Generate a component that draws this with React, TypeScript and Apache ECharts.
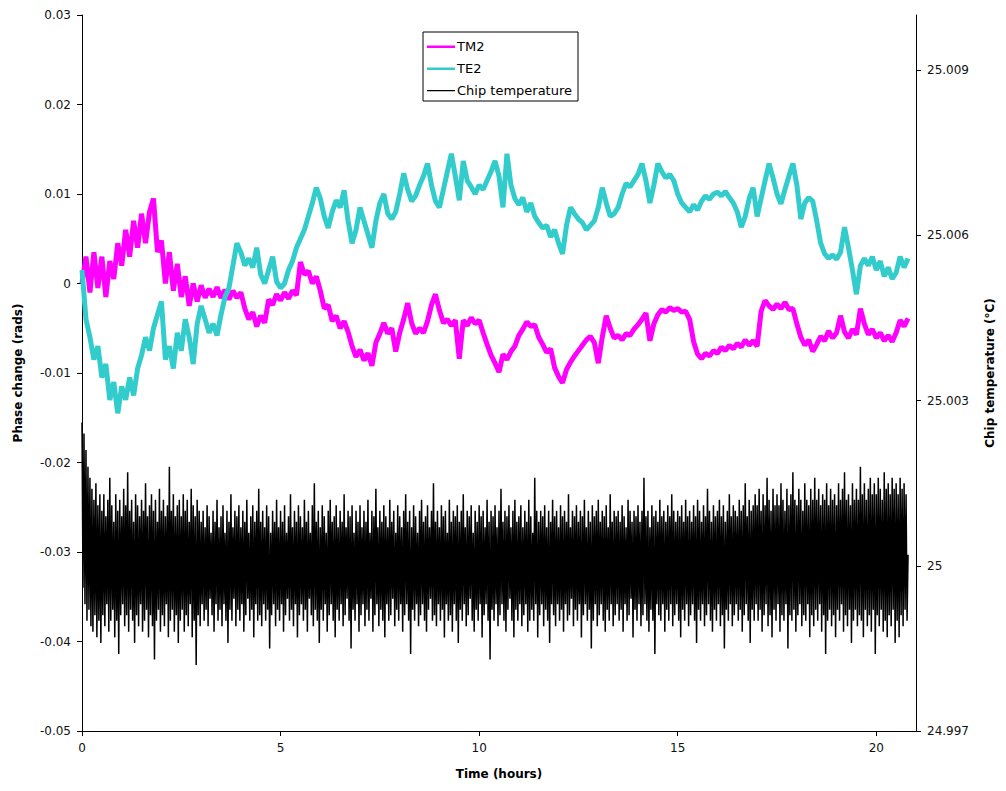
import React, { useEffect, useRef } from "react";
import * as echarts from "echarts";

// Time step of the sampled traces (hours)
const PHASE_STEP_H = 0.1;
const CHIP_STEP_H = 0.025;

// Phase change (rads), TM2 mode, sampled every 0.1 h from 0 to 20.8 h
const TM2: number[] = [
  0.0000, 0.0030, -0.0010, 0.0035, -0.0005, 0.0030, -0.0015, 0.0025, 0.0005, 0.0045,
  0.0020, 0.0060, 0.0030, 0.0070, 0.0040, 0.0078, 0.0045, 0.0080, 0.0095, 0.0035,
  0.0048, 0.0000, 0.0035, -0.0008, 0.0022, -0.0015, 0.0008, -0.0025, 0.0000, -0.0020,
  -0.0002, -0.0016, -0.0006, -0.0015, -0.0004, -0.0016, -0.0007, -0.0018, -0.0008, -0.0016,
  -0.0010, -0.0028, -0.0040, -0.0032, -0.0048, -0.0036, -0.0044, -0.0018, -0.0024, -0.0012,
  -0.0019, -0.0010, -0.0017, -0.0008, -0.0013, 0.0024, 0.0010, 0.0014, 0.0000, 0.0008,
  -0.0008, -0.0028, -0.0024, -0.0042, -0.0036, -0.0050, -0.0042, -0.0054, -0.0070, -0.0082,
  -0.0074, -0.0086, -0.0078, -0.0092, -0.0066, -0.0056, -0.0044, -0.0056, -0.0050, -0.0076,
  -0.0055, -0.0040, -0.0022, -0.0044, -0.0056, -0.0050, -0.0055, -0.0042, -0.0024, -0.0012,
  -0.0030, -0.0044, -0.0040, -0.0047, -0.0041, -0.0084, -0.0041, -0.0047, -0.0038, -0.0045,
  -0.0041, -0.0055, -0.0068, -0.0080, -0.0089, -0.0099, -0.0079, -0.0085, -0.0076, -0.0070,
  -0.0058, -0.0051, -0.0043, -0.0048, -0.0046, -0.0060, -0.0068, -0.0077, -0.0073, -0.0094,
  -0.0104, -0.0111, -0.0096, -0.0088, -0.0081, -0.0075, -0.0069, -0.0063, -0.0059, -0.0066,
  -0.0089, -0.0060, -0.0036, -0.0050, -0.0061, -0.0058, -0.0063, -0.0056, -0.0058, -0.0051,
  -0.0046, -0.0040, -0.0033, -0.0064, -0.0045, -0.0035, -0.0029, -0.0032, -0.0027, -0.0030,
  -0.0028, -0.0032, -0.0031, -0.0040, -0.0065, -0.0079, -0.0084, -0.0078, -0.0081, -0.0075,
  -0.0078, -0.0071, -0.0075, -0.0069, -0.0073, -0.0067, -0.0071, -0.0063, -0.0069, -0.0064,
  -0.0070, -0.0031, -0.0019, -0.0025, -0.0029, -0.0023, -0.0028, -0.0021, -0.0029, -0.0028,
  -0.0045, -0.0060, -0.0069, -0.0063, -0.0076, -0.0068, -0.0059, -0.0064, -0.0053, -0.0061,
  -0.0055, -0.0036, -0.0054, -0.0061, -0.0051, -0.0057, -0.0028, -0.0045, -0.0057, -0.0051,
  -0.0061, -0.0055, -0.0064, -0.0058, -0.0065, -0.0055, -0.0041, -0.0048, -0.0039,
];

// Phase change (rads), TE2 mode, sampled every 0.1 h from 0 to 20.8 h
const TE2: number[] = [
  0.0015, -0.0040, -0.0060, -0.0085, -0.0070, -0.0105, -0.0090, -0.0130, -0.0110, -0.0145,
  -0.0115, -0.0130, -0.0105, -0.0125, -0.0095, -0.0080, -0.0060, -0.0075, -0.0050, -0.0035,
  -0.0020, -0.0085, -0.0070, -0.0095, -0.0055, -0.0075, -0.0040, -0.0060, -0.0090, -0.0045,
  -0.0025, -0.0040, -0.0055, -0.0045, -0.0058, -0.0035, -0.0015, -0.0005, 0.0020, 0.0045,
  0.0035, 0.0020, 0.0028, 0.0018, 0.0040, 0.0010, 0.0000, 0.0015, 0.0030, 0.0002,
  -0.0005, 0.0000, 0.0015, 0.0025, 0.0040, 0.0050, 0.0060, 0.0075, 0.0090, 0.0107,
  0.0095, 0.0075, 0.0062, 0.0080, 0.0093, 0.0085, 0.0104, 0.0070, 0.0045, 0.0060,
  0.0085, 0.0070, 0.0055, 0.0040, 0.0070, 0.0090, 0.0100, 0.0078, 0.0072, 0.0080,
  0.0100, 0.0123, 0.0105, 0.0092, 0.0098, 0.0110, 0.0120, 0.0134, 0.0110, 0.0092,
  0.0085, 0.0105, 0.0125, 0.0145, 0.0120, 0.0093, 0.0137, 0.0115, 0.0108, 0.0100,
  0.0110, 0.0105, 0.0115, 0.0125, 0.0137, 0.0120, 0.0085, 0.0145, 0.0110, 0.0095,
  0.0088, 0.0096, 0.0080, 0.0090, 0.0075, 0.0068, 0.0062, 0.0065, 0.0052, 0.0060,
  0.0045, 0.0033, 0.0065, 0.0085, 0.0078, 0.0072, 0.0068, 0.0060, 0.0065, 0.0070,
  0.0085, 0.0107, 0.0090, 0.0075, 0.0078, 0.0085, 0.0100, 0.0112, 0.0108, 0.0115,
  0.0122, 0.0134, 0.0115, 0.0090, 0.0110, 0.0134, 0.0125, 0.0118, 0.0122, 0.0115,
  0.0100, 0.0090, 0.0085, 0.0080, 0.0088, 0.0082, 0.0092, 0.0098, 0.0094, 0.0100,
  0.0102, 0.0098, 0.0103, 0.0096, 0.0090, 0.0080, 0.0063, 0.0075, 0.0095, 0.0107,
  0.0075, 0.0095, 0.0115, 0.0134, 0.0118, 0.0100, 0.0089, 0.0105, 0.0120, 0.0134,
  0.0110, 0.0072, 0.0090, 0.0096, 0.0092, 0.0070, 0.0045, 0.0033, 0.0028, 0.0032,
  0.0027, 0.0035, 0.0063, 0.0040, 0.0015, -0.0012, 0.0020, 0.0028, 0.0020, 0.0030,
  0.0015, 0.0025, 0.0008, 0.0018, 0.0005, 0.0012, 0.0030, 0.0018, 0.0028,
];

// Chip temperature (°C), sampled every 0.025 h from 0 to 20.8 h
const CHIP_TEMP: number[] = [
  25.0026, 24.9996, 25.0024, 24.9993, 25.0021, 24.9990, 25.0018, 24.9992, 25.0016, 24.9989, 25.0014, 24.9988, 25.0012, 24.9991, 25.0015, 24.9987, 25.0011, 24.9990, 25.0013, 24.9986,
  25.0010, 24.9991, 25.0013, 24.9989, 25.0009, 24.9993, 25.0012, 24.9988, 25.0016, 24.9990, 25.0011, 24.9992, 25.0008, 24.9987, 25.0013, 24.9990, 25.0010, 24.9984, 25.0012, 24.9991,
  25.0009, 24.9993, 25.0014, 24.9989, 25.0011, 24.9991, 25.0017, 24.9988, 25.0010, 24.9992, 25.0012, 24.9990, 25.0008, 24.9986, 25.0013, 24.9991, 25.0011, 24.9989, 25.0009, 24.9993,
  25.0012, 24.9988, 25.0010, 24.9990, 25.0015, 24.9992, 25.0009, 24.9987, 25.0011, 24.9991, 25.0013, 24.9989, 25.0010, 24.9983, 25.0012, 24.9990, 25.0008, 24.9992, 25.0014, 24.9988,
  25.0010, 24.9991, 25.0012, 24.9989, 25.0009, 24.9993, 25.0011, 24.9987, 25.0018, 24.9990, 25.0010, 24.9992, 25.0013, 24.9988, 25.0009, 24.9991, 25.0011, 24.9986, 25.0012, 24.9990,
  25.0009, 24.9992, 25.0013, 24.9988, 25.0010, 24.9991, 25.0012, 24.9989, 25.0008, 24.9993, 25.0014, 24.9987, 25.0011, 24.9990, 25.0009, 24.9982, 25.0012, 24.9991, 25.0010, 24.9989,
  25.0008, 24.9993, 25.0010, 24.9990, 25.0007, 24.9992, 25.0011, 24.9989, 25.0009, 24.9994, 25.0006, 24.9991, 25.0010, 24.9988, 25.0008, 24.9993, 25.0012, 24.9990, 25.0007, 24.9992,
  25.0009, 24.9989, 25.0011, 24.9993, 25.0006, 24.9990, 25.0010, 24.9986, 25.0008, 24.9992, 25.0013, 24.9990, 25.0007, 24.9994, 25.0010, 24.9989, 25.0009, 24.9992, 25.0011, 24.9990,
  25.0007, 24.9993, 25.0010, 24.9988, 25.0008, 24.9991, 25.0012, 24.9994, 25.0006, 24.9990, 25.0009, 24.9992, 25.0011, 24.9987, 25.0008, 24.9993, 25.0010, 24.9990, 25.0014, 24.9991,
  25.0008, 24.9989, 25.0010, 24.9993, 25.0007, 24.9990, 25.0011, 24.9992, 25.0009, 24.9985, 25.0006, 24.9991, 25.0010, 24.9993, 25.0008, 24.9989, 25.0012, 24.9992, 25.0007, 24.9990,
  25.0010, 24.9993, 25.0008, 24.9988, 25.0011, 24.9991, 25.0006, 24.9994, 25.0009, 24.9990, 25.0013, 24.9992, 25.0007, 24.9989, 25.0010, 24.9993, 25.0008, 24.9987, 25.0011, 24.9991,
  25.0009, 24.9993, 25.0007, 24.9990, 25.0012, 24.9992, 25.0008, 24.9988, 25.0010, 24.9994, 25.0006, 24.9991, 25.0011, 24.9989, 25.0015, 24.9992, 25.0008, 24.9990, 25.0010, 24.9986,
  25.0007, 24.9992, 25.0011, 24.9990, 25.0009, 24.9993, 25.0006, 24.9988, 25.0010, 24.9991, 25.0012, 24.9993, 25.0008, 24.9990, 25.0009, 24.9987, 25.0011, 24.9992, 25.0007, 24.9990,
  25.0010, 24.9993, 25.0008, 24.9989, 25.0013, 24.9991, 25.0007, 24.9994, 25.0010, 24.9990, 25.0009, 24.9985, 25.0011, 24.9992, 25.0006, 24.9990, 25.0010, 24.9993, 25.0008, 24.9988,
  25.0011, 24.9991, 25.0007, 24.9993, 25.0010, 24.9989, 25.0008, 24.9992, 25.0012, 24.9990, 25.0006, 24.9994, 25.0010, 24.9988, 25.0009, 24.9991, 25.0014, 24.9993, 25.0007, 24.9989,
  25.0010, 24.9992, 25.0008, 24.9990, 25.0011, 24.9987, 25.0009, 24.9993, 25.0007, 24.9990, 25.0012, 24.9991, 25.0008, 24.9994, 25.0010, 24.9989, 25.0006, 24.9992, 25.0011, 24.9990,
  25.0009, 24.9993, 25.0007, 24.9988, 25.0010, 24.9991, 25.0013, 24.9993, 25.0008, 24.9990, 25.0010, 24.9984, 25.0007, 24.9992, 25.0011, 24.9990, 25.0009, 24.9993, 25.0006, 24.9989,
  25.0010, 24.9991, 25.0012, 24.9993, 25.0008, 24.9990, 25.0009, 24.9988, 25.0011, 24.9992, 25.0007, 24.9994, 25.0010, 24.9990, 25.0015, 24.9991, 25.0008, 24.9989, 25.0010, 24.9993,
  25.0007, 24.9990, 25.0011, 24.9992, 25.0009, 24.9987, 25.0010, 24.9993, 25.0006, 24.9990, 25.0012, 24.9991, 25.0008, 24.9988, 25.0010, 24.9993, 25.0009, 24.9990, 25.0011, 24.9986,
  25.0008, 24.9992, 25.0010, 24.9990, 25.0013, 24.9993, 25.0007, 24.9989, 25.0010, 24.9991, 25.0009, 24.9994, 25.0011, 24.9990, 25.0006, 24.9988, 25.0010, 24.9992, 25.0008, 24.9990,
  25.0011, 24.9993, 25.0009, 24.9987, 25.0010, 24.9991, 25.0007, 24.9993, 25.0012, 24.9990, 25.0008, 24.9983, 25.0010, 24.9992, 25.0009, 24.9990, 25.0011, 24.9993, 25.0007, 24.9989,
  25.0010, 24.9991, 25.0014, 24.9993, 25.0008, 24.9990, 25.0010, 24.9988, 25.0009, 24.9992, 25.0011, 24.9994, 25.0007, 24.9990, 25.0010, 24.9987, 25.0012, 24.9992, 25.0008, 24.9990,
  25.0009, 24.9993, 25.0011, 24.9989, 25.0007, 24.9991, 25.0010, 24.9993, 25.0008, 24.9988, 25.0012, 24.9990, 25.0009, 24.9992, 25.0006, 24.9990, 25.0016, 24.9993, 25.0010, 24.9987,
  25.0008, 24.9991, 25.0010, 24.9993, 25.0009, 24.9989, 25.0011, 24.9992, 25.0007, 24.9990, 25.0010, 24.9986, 25.0008, 24.9993, 25.0012, 24.9991, 25.0009, 24.9989, 25.0010, 24.9993,
  25.0007, 24.9990, 25.0011, 24.9992, 25.0009, 24.9988, 25.0010, 24.9993, 25.0008, 24.9990, 25.0013, 24.9991, 25.0007, 24.9994, 25.0010, 24.9989, 25.0009, 24.9992, 25.0011, 24.9990,
  25.0008, 24.9993, 25.0010, 24.9987, 25.0009, 24.9991, 25.0012, 24.9993, 25.0007, 24.9990, 25.0010, 24.9992, 25.0008, 24.9985, 25.0011, 24.9990, 25.0009, 24.9993, 25.0010, 24.9989,
  25.0012, 24.9991, 25.0008, 24.9993, 25.0010, 24.9990, 25.0009, 24.9988, 25.0011, 24.9992, 25.0007, 24.9990, 25.0013, 24.9993, 25.0008, 24.9989, 25.0010, 24.9991, 25.0009, 24.9993,
  25.0010, 24.9990, 25.0008, 24.9992, 25.0011, 24.9988, 25.0009, 24.9993, 25.0007, 24.9990, 25.0012, 24.9991, 25.0010, 24.9994, 25.0008, 24.9987, 25.0010, 24.9992, 25.0009, 24.9990,
  25.0011, 24.9993, 25.0008, 24.9989, 25.0010, 24.9991, 25.0016, 24.9993, 25.0009, 24.9990, 25.0010, 24.9988, 25.0007, 24.9992, 25.0011, 24.9990, 25.0009, 24.9984, 25.0010, 24.9993,
  25.0008, 24.9991, 25.0012, 24.9990, 25.0009, 24.9993, 25.0010, 24.9988, 25.0008, 24.9992, 25.0011, 24.9990, 25.0009, 24.9993, 25.0013, 24.9989, 25.0010, 24.9991, 25.0008, 24.9993,
  25.0010, 24.9990, 25.0009, 24.9987, 25.0011, 24.9992, 25.0008, 24.9990, 25.0012, 24.9993, 25.0009, 24.9989, 25.0010, 24.9991, 25.0008, 24.9993, 25.0011, 24.9990, 25.0009, 24.9986,
  25.0012, 24.9992, 25.0010, 24.9990, 25.0008, 24.9993, 25.0011, 24.9989, 25.0009, 24.9991, 25.0014, 24.9993, 25.0010, 24.9990, 25.0008, 24.9988, 25.0011, 24.9992, 25.0009, 24.9990,
  25.0010, 24.9993, 25.0012, 24.9989, 25.0009, 24.9991, 25.0011, 24.9985, 25.0008, 24.9992, 25.0010, 24.9990, 25.0013, 24.9993, 25.0009, 24.9989, 25.0011, 24.9991, 25.0010, 24.9993,
  25.0009, 24.9990, 25.0012, 24.9992, 25.0010, 24.9988, 25.0011, 24.9991, 25.0015, 24.9993, 25.0009, 24.9990, 25.0012, 24.9986, 25.0010, 24.9992, 25.0011, 24.9990, 25.0013, 24.9993,
  25.0011, 24.9990, 25.0014, 24.9992, 25.0010, 24.9988, 25.0013, 24.9991, 25.0011, 24.9993, 25.0016, 24.9989, 25.0012, 24.9991, 25.0010, 24.9987, 25.0014, 24.9992, 25.0011, 24.9990,
  25.0013, 24.9993, 25.0011, 24.9988, 25.0015, 24.9991, 25.0012, 24.9990, 25.0010, 24.9993, 25.0014, 24.9985, 25.0011, 24.9991, 25.0013, 24.9990, 25.0017, 24.9992, 25.0012, 24.9988,
  25.0011, 24.9991, 25.0014, 24.9993, 25.0012, 24.9989, 25.0010, 24.9991, 25.0015, 24.9990, 25.0012, 24.9993, 25.0011, 24.9987, 25.0014, 24.9991, 25.0012, 24.9989, 25.0016, 24.9992,
  25.0012, 24.9990, 25.0014, 24.9993, 25.0011, 24.9988, 25.0013, 24.9991, 25.0012, 24.9984, 25.0015, 24.9990, 25.0011, 24.9992, 25.0014, 24.9989, 25.0012, 24.9991, 25.0013, 24.9987,
  25.0011, 24.9992, 25.0015, 24.9990, 25.0012, 24.9993, 25.0014, 24.9988, 25.0017, 24.9991, 25.0012, 24.9989, 25.0013, 24.9992, 25.0011, 24.9986, 25.0015, 24.9990, 25.0012, 24.9992,
  25.0014, 24.9989, 25.0012, 24.9991, 25.0018, 24.9990, 25.0013, 24.9987, 25.0015, 24.9992, 25.0012, 24.9989, 25.0014, 24.9991, 25.0016, 24.9988, 25.0013, 24.9992, 25.0015, 24.9984,
  25.0013, 24.9991, 25.0016, 24.9989, 25.0014, 24.9992, 25.0012, 24.9988, 25.0017, 24.9990, 25.0014, 24.9987, 25.0015, 24.9991, 25.0013, 24.9989, 25.0016, 24.9992, 25.0014, 24.9986,
  25.0015, 24.9990, 25.0013, 24.9987, 25.0016, 24.9991, 25.0014, 24.9989, 25.0015, 24.9992, 25.0013, 24.9990, 25.0002,
];

const X_TICKS = [0, 5, 10, 15, 20];
const TEMP_TICKS = [24.997, 25, 25.003, 25.006, 25.009];

const FONT = "DejaVu Sans";

// Legend line icons (tiny corner dots keep the bar's thickness inside the item box)
const THICK_ICON = "path://M0 0h0.01v0.01h-0.01z M0 5h28v2.4h-28z M0 12h0.01v0.01h-0.01z";
const THIN_ICON = "path://M0 0h0.01v0.01h-0.01z M0 5.5h28v1.2h-28z M0 12h0.01v0.01h-0.01z";

function toPairs(values: number[], step: number): [number, number][] {
  return values.map((v, i) => [Math.round(i * step * 1000) / 1000, v]);
}

export default function App() {
  const ref = useRef<HTMLDivElement>(null);

  useEffect(() => {
    if (!ref.current) return;
    const chart = echarts.init(ref.current, undefined, { renderer: "svg" });
    const axisLine = { show: true, onZero: false, lineStyle: { color: "#000", width: 1 } };
    const labelStyle = { color: "#111", fontFamily: FONT, fontSize: 12 };
    const nameStyle = { color: "#000", fontFamily: FONT, fontSize: 12, fontWeight: "bold" as const };

    chart.setOption({
      animation: false,
      backgroundColor: "#fff",
      grid: { left: 82, right: 90, top: 15, bottom: 60, containLabel: false },
      legend: {
        data: [
          { name: "TM2", icon: THICK_ICON },
          { name: "TE2", icon: THICK_ICON },
          { name: "Chip temperature", icon: THIN_ICON },
        ],
        orient: "vertical",
        left: 423,
        top: 32,
        itemWidth: 28,
        itemHeight: 12,
        itemGap: 9,
        padding: [8, 6, 4, 4],
        borderColor: "#000",
        borderWidth: 1,
        backgroundColor: "#fff",
        textStyle: { color: "#000", fontFamily: FONT, fontSize: 13, padding: [0, 0, 0, -3] },
      },
      xAxis: {
        type: "value",
        min: 0,
        max: 21,
        name: "Time (hours)",
        nameLocation: "middle",
        nameGap: 37,
        nameTextStyle: nameStyle,
        axisLine,
        axisTick: { show: true, length: 5, lineStyle: { color: "#000" }, customValues: X_TICKS },
        axisLabel: { ...labelStyle, margin: 11, customValues: X_TICKS },
        splitLine: { show: false },
      },
      yAxis: [
        {
          type: "value",
          min: -0.05,
          max: 0.03,
          interval: 0.01,
          name: "Phase change (rads)",
          nameLocation: "middle",
          nameRotate: 90,
          nameGap: 58,
          nameTextStyle: nameStyle,
          axisLine,
          axisTick: { show: true, length: 5, lineStyle: { color: "#000" } },
          axisLabel: { ...labelStyle, margin: 11 },
          splitLine: { show: false },
        },
        {
          type: "value",
          position: "right",
          min: 24.997,
          max: 25.01,
          name: "Chip temperature (°C)",
          nameLocation: "middle",
          nameRotate: 90,
          nameGap: 68,
          nameTextStyle: nameStyle,
          axisLine,
          axisTick: { show: true, length: 5, lineStyle: { color: "#000" }, customValues: TEMP_TICKS },
          axisLabel: { ...labelStyle, margin: 11, customValues: TEMP_TICKS },
          splitLine: { show: false },
        },
      ],
      series: [
        {
          name: "TM2",
          type: "line",
          yAxisIndex: 0,
          data: toPairs(TM2, PHASE_STEP_H),
          symbol: "none",
          showSymbol: false,
          color: "#FF00FF",
          lineStyle: { color: "#FF00FF", width: 5 },
        },
        {
          name: "TE2",
          type: "line",
          yAxisIndex: 0,
          data: toPairs(TE2, PHASE_STEP_H),
          symbol: "none",
          showSymbol: false,
          color: "#33CCCC",
          lineStyle: { color: "#33CCCC", width: 5 },
        },
        {
          name: "Chip temperature",
          type: "line",
          yAxisIndex: 1,
          data: toPairs(CHIP_TEMP, CHIP_STEP_H),
          symbol: "none",
          showSymbol: false,
          color: "#000",
          lineStyle: { color: "#000", width: 1.5 },
        },
      ],
    });
    return () => chart.dispose();
  }, []);

  return (
    <div
      ref={ref}
      style={{ position: "fixed", left: 0, top: 0, width: 1006, height: 791, background: "#fff" }}
    />
  );
}
